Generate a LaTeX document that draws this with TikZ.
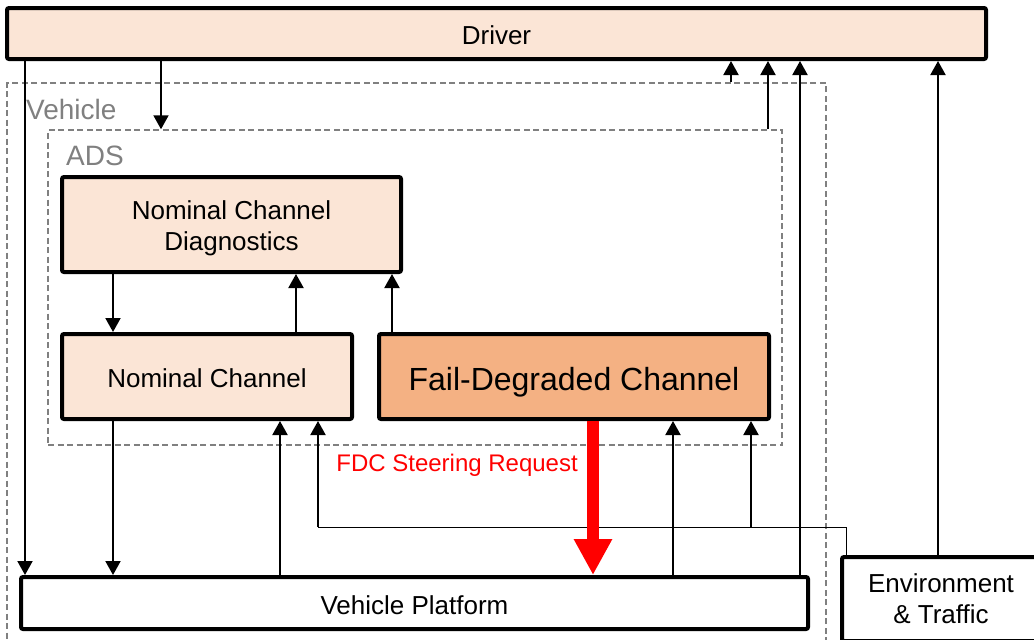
\documentclass[tikz,border=0pt]{standalone}
\usepackage{fontspec}
\setmainfont{Liberation Sans}
\usetikzlibrary{arrows.meta}
\definecolor{peach}{HTML}{FBE5D6}
\definecolor{apricot}{HTML}{F4B183}
\definecolor{dashgray}{HTML}{808080}

\begin{document}
\begin{tikzpicture}[x=1pt,y=-1pt,
  blk/.style={draw=black, line width=4pt, rounded corners=2pt, inner sep=0pt,
    align=center, font=\fontsize{26}{31.2}\selectfont},
  oneline/.style={text height=23pt, text depth=0.4pt},
  grp/.style={draw=dashgray, line width=1.5pt, dash pattern=on 6pt off 3.5pt, inner sep=0pt},
  arr/.style={line width=2pt, -{Triangle[width=15pt,length=14pt]}},
  wire/.style={line width=1pt},
  lbl/.style={text=dashgray, inner sep=0pt, font=\fontsize{28}{33}\selectfont},
  request/.style={red, line width=12pt, -{Triangle[width=36pt,length=36pt]}},
]
\useasboundingbox (0,0) rectangle (1034,640);
\clip (0,0) rectangle (1034,640);

% containers
\node[grp, minimum width=819pt, minimum height=577pt] (vehicle) at (416.5,371.5) {};
\node[grp, minimum width=734pt, minimum height=315pt] (ads) at (415,287.5) {};
\node[lbl, anchor=base west] (vehlbl) at (26,119.3) {Vehicle};
\node[lbl, anchor=base west] (adslbl) at (66,165) {ADS};

% blocks
\node[blk, oneline, fill=peach, minimum width=979pt, minimum height=51pt] (driver) at (496.5,33.5) {Driver};
\node[blk, fill=peach, minimum width=339pt, minimum height=95pt] (ncd) at (231.5,224.5) {\rule{0pt}{27pt}Nominal Channel\\Diagnostics};
\node[blk, oneline, fill=peach, minimum width=290pt, minimum height=85pt] (nc) at (207,376.5) {Nominal Channel};
\node[blk, fill=apricot, minimum width=390pt, minimum height=85pt, text height=28pt, text depth=0.5pt,
  font=\fontsize{32}{38}\selectfont] (fdc) at (574,376.5) {Fail-Degraded Channel};
\node[blk, oneline, fill=white, minimum width=787pt, minimum height=52pt] (vp) at (414.5,603) {Vehicle Platform};
\node[blk, fill=white, minimum width=198pt, minimum height=84pt] (env) at (941,599) {Environment\\\& Traffic};

% connector columns
\coordinate (xdv) at (25,0);
\coordinate (xads) at (161,0);
\coordinate (xncd) at (113,0);
\coordinate (xnc) at (296,0);
\coordinate (xfdc) at (392,0);
\coordinate (xvpa) at (280,0);
\coordinate (xenva) at (318,0);
\coordinate (xred) at (593,0);
\coordinate (xvpb) at (673,0);
\coordinate (xenvb) at (751,0);
\coordinate (xvpc) at (800,0);
\coordinate (xadsb) at (768,0);
\coordinate (xveh) at (731,0);
\coordinate (xenvc) at (938,0);
\coordinate (xenvtop) at (846,0);
\coordinate (bus) at (0,527);

% connectors
\draw[arr] (driver.south -| xdv) -- (vp.north -| xdv);
\draw[arr] (driver.south -| xads) -- (ads.north -| xads);
\draw[arr] (ncd.south -| xncd) -- (nc.north -| xncd);
\draw[arr] (nc.north -| xnc) -- (ncd.south -| xnc);
\draw[arr] (fdc.north -| xfdc) -- (ncd.south -| xfdc);
\draw[arr] (nc.south -| xncd) -- (vp.north -| xncd);
\draw[arr] (vp.north -| xvpa) -- (nc.south -| xvpa);
\draw[arr] (vp.north -| xvpb) -- (fdc.south -| xvpb);
\draw[arr] (vp.north -| xvpc) -- (driver.south -| xvpc);
\draw[arr] (ads.north -| xadsb) -- (driver.south -| xadsb);
\draw[arr] (vehicle.north -| xveh) -- (driver.south -| xveh);
\draw[arr] (env.north -| xenvc) -- (driver.south -| xenvc);

% environment feed to both channels
\draw[wire] (env.north -| xenvtop) |- (bus -| xenva);
\draw[arr] (bus -| xenva) -- (nc.south -| xenva);
\draw[arr] (bus -| xenvb) -- (fdc.south -| xenvb);

% fail-degraded steering request
\draw[request] (fdc.south -| xred) -- (vp.north -| xred);
\node[text=red, inner sep=0pt, anchor=base east, font=\fontsize{24}{28}\selectfont] (reqlbl) at (578,471.7) {FDC Steering Request};
\end{tikzpicture}
\end{document}
